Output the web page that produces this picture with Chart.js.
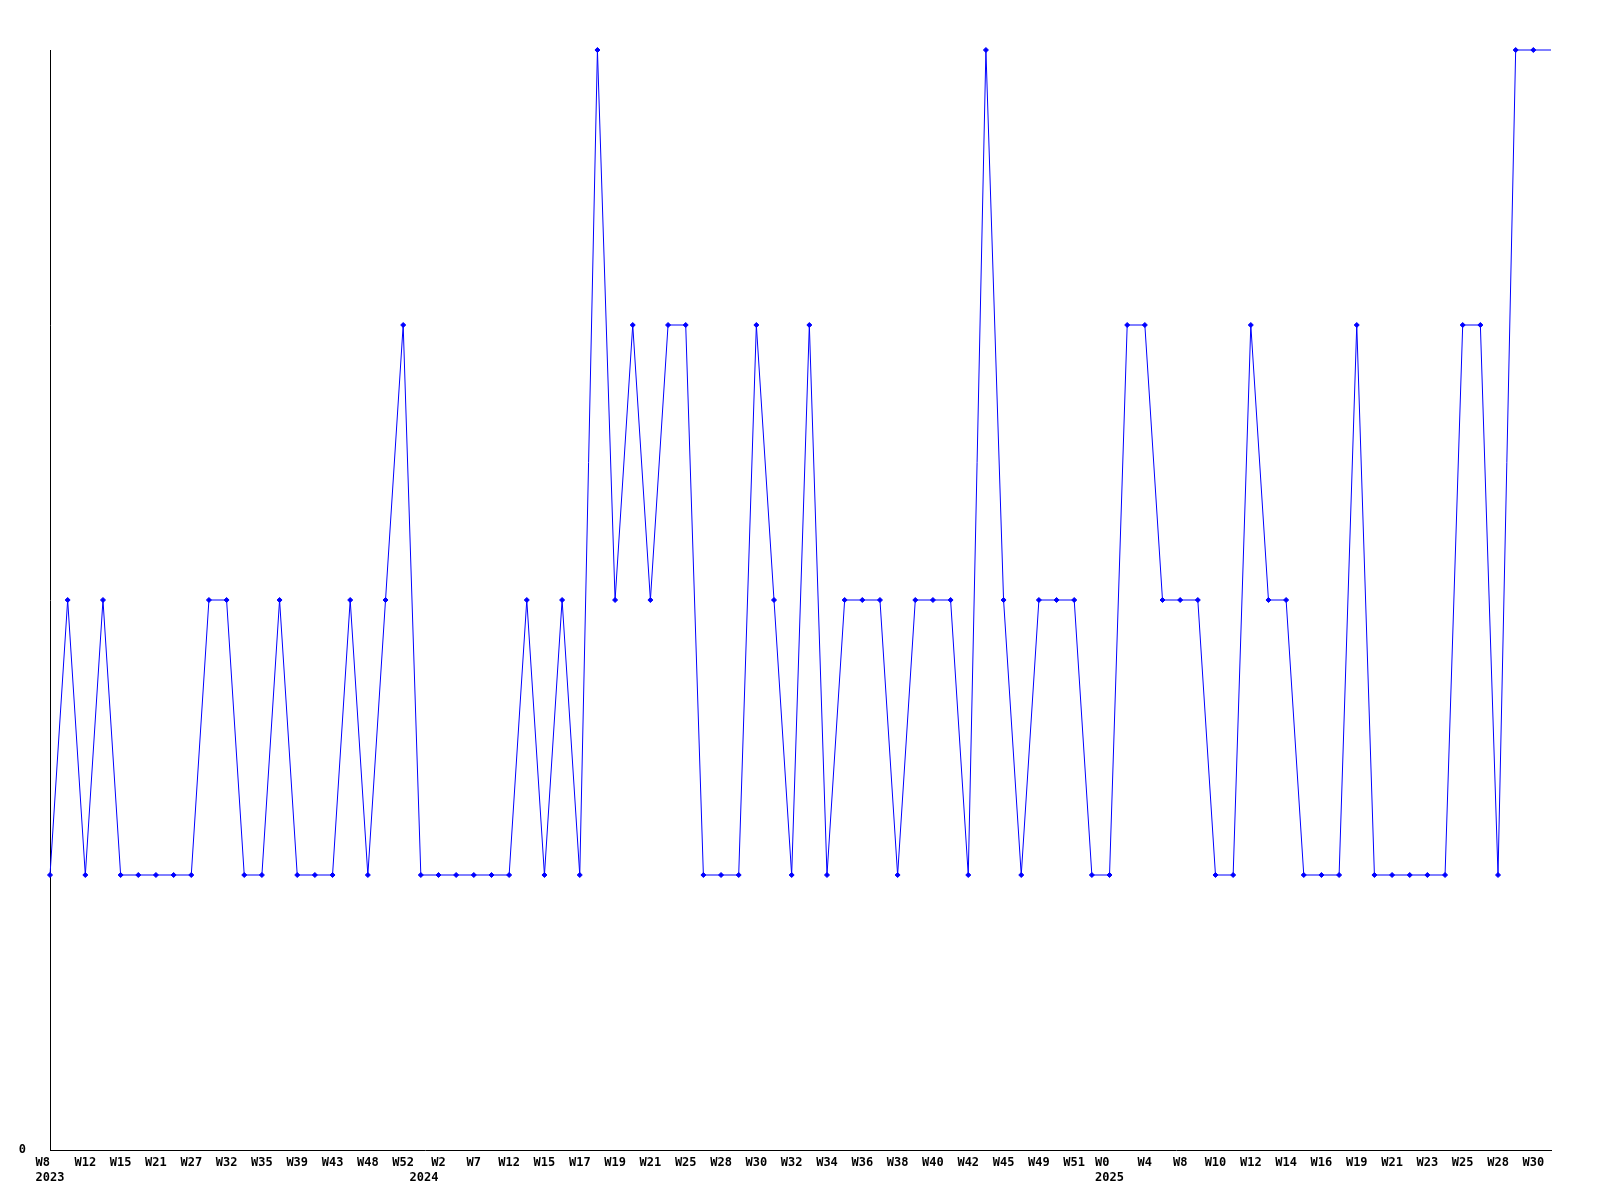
<!DOCTYPE html>
<html>
<head>
<meta charset="utf-8">
<script src="https://cdn.jsdelivr.net/npm/chart.js@4"></script>
<style>
  body { margin: 0; background: #fff; }
  canvas { display: block; }
</style>
</head>
<body>
<canvas id="weekChart" width="1600" height="1200"></canvas>
<script>
// ==========================================
// DATA
// ==========================================

// one label for every second point
const weekLabels = [
    "W8", "W12", "W15", "W21", "W27", "W32", "W35", "W39", "W43", "W48", "W52",
    "W2", "W7", "W12", "W15", "W17", "W19", "W21", "W25", "W28", "W30", "W32",
    "W34", "W36", "W38", "W40", "W42", "W45", "W49", "W51",
    "W0", "W4", "W8", "W10", "W12", "W14", "W16", "W19", "W21", "W23", "W25",
    "W28", "W30"
];

// year shown under the label at this point index
const yearPoints = [0, 22, 60];
const yearNames = ["2023", "2024", "2025"];

// one value per point (last one runs to the right edge, no marker)
const values = [
    1, 2, 1, 2, 1, 1, 1, 1, 1, 2,
    2, 1, 1, 2, 1, 1, 1, 2, 1, 2,
    3, 1, 1, 1, 1, 1, 1, 2, 1, 2,
    1, 4, 2, 3, 2, 3, 3, 1, 1, 1,
    3, 2, 1, 3, 1, 2, 2, 2, 1, 2,
    2, 2, 1, 4, 2, 1, 2, 2, 2, 1,
    1, 3, 3, 2, 2, 2, 1, 1, 3, 2,
    2, 1, 1, 1, 3, 1, 1, 1, 1, 1,
    3, 3, 1, 4, 4, 4
];

const yMin = 0;
const yMax = 4;

// ==========================================
// LABELS
// ==========================================

const labels = values.map(function(v, i){

    if(i % 2 !== 0) return "";

    const week = weekLabels[i / 2];

    if(week === undefined) return "";

    const y = yearPoints.indexOf(i);

    if(y === -1) return week;

    // line up the year text like the original
    if(i === 22) return [week, yearNames[y] + "    "];

    return [week + "  ", yearNames[y]];

});

const pointSizes = values.map(function(v, i){
    return i === values.length - 1 ? 0 : 2.5;
});

// ==========================================
// CHART
// ==========================================

const tickFont = {
    family: "'DejaVu Sans Mono', monospace",
    size: 12,
    weight: "bold",
    lineHeight: 1.25
};

const ctx = document.getElementById("weekChart").getContext("2d");

const chart = new Chart(ctx, {

    type: "line",

    data: {
        labels: labels,
        datasets: [{
            data: values,
            borderColor: "#0000ff",
            backgroundColor: "#0000ff",
            borderWidth: 1,
            tension: 0,
            pointStyle: "rectRot",
            pointRadius: pointSizes,
            pointHoverRadius: pointSizes,
            pointBorderWidth: 1,
            pointBorderColor: "#0000ff",
            pointBackgroundColor: "#0000ff",
            clip: false
        }]
    },

    options: {
        responsive: false,
        animation: false,
        layout: {
            padding: { top: 50, right: 49, left: 0, bottom: 0 }
        },
        plugins: {
            legend: { display: false },
            tooltip: { enabled: false }
        },
        scales: {
            x: {
                offset: false,
                grid: { display: false, drawTicks: false },
                border: { display: true, color: "#000", width: 1 },
                ticks: {
                    autoSkip: false,
                    maxRotation: 0,
                    minRotation: 0,
                    color: "#000",
                    font: tickFont,
                    padding: 5
                },
                afterFit: function(axis){ axis.height = 50; }
            },
            y: {
                min: yMin,
                max: yMax,
                grid: { display: false, drawTicks: false },
                border: { display: true, color: "#000", width: 1 },
                ticks: {
                    stepSize: 1,
                    color: "#000",
                    font: tickFont,
                    padding: 24,
                    callback: function(v){ return v === 0 ? "0" : ""; }
                },
                afterFit: function(axis){ axis.width = 50; }
            }
        }
    }

});
</script>
</body>
</html>
